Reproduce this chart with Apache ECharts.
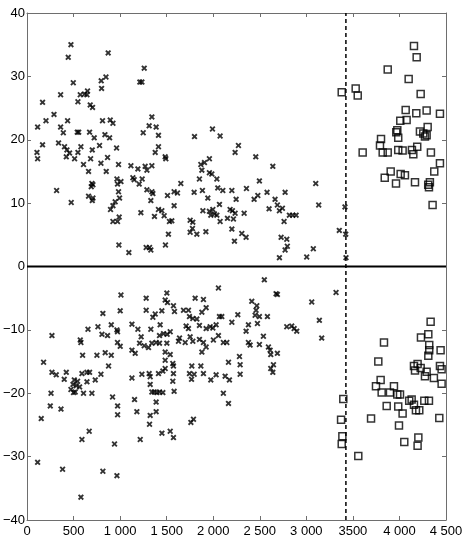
<!DOCTYPE html>
<html><head><meta charset="utf-8">
<script src="https://cdn.jsdelivr.net/npm/echarts@6/dist/echarts.min.js"></script>
<style>html,body{margin:0;padding:0;background:#fff}#c{width:470px;height:545px}</style>
</head><body><div id="c"></div><script>
const xTickLabels = ["0","500","1 000","1 500","2 000","2 500","3 000","3500","4 000","4 500"];
const yTickLabels = ["\u221240","\u221230","\u221220","\u221210","0","10","20","30","40"];
const zeroY = 0;
const cutoffX = 3425;

const crossUpper = [
[472,35.0],[443,33.0],[872,33.7],[1259,31.3],[1212,29.1],[1234,29.1],[497,29.0],[797,29.3],[848,29.9],[801,28.1],[361,27.1],[167,25.9],[572,27.1],[618,27.2],[650,27.7],[644,27.1],[547,26.0],[679,25.5],[704,25.1],[1341,23.6],[290,24.0],[204,23.0],[114,22.0],[436,23.0],[361,22.0],[390,21.1],[540,21.2],[555,21.2],[672,21.2],[722,20.3],[811,23.0],[894,23.1],[923,22.6],[837,20.8],[887,20.3],[1312,22.2],[1387,22.0],[1248,21.1],[1412,20.7],
[1799,20.5],[1992,21.7],[2074,20.6],
[167,19.2],[107,18.0],[114,17.0],[339,19.5],[403,18.9],[429,18.4],[457,17.9],[422,17.3],[511,17.0],[547,18.0],[579,18.9],[701,18.4],[683,17.0],[779,19.1],[962,18.7],[865,17.2],[794,16.3],[607,16.1],[661,15.0],[851,15.0],[983,16.1],[1116,15.9],[1191,15.4],[1269,15.8],[1288,15.2],[1341,15.9],[1412,18.9],[1377,18.0],[1484,17.3],[1491,17.0],[318,12.0],[475,10.1],[697,13.1],[690,12.6],[708,12.9],[661,11.1],[708,10.8],[701,10.4],[966,13.8],[972,13.0],[1009,13.4],[983,11.8],[994,10.8],[947,10.2],[923,9.6],[897,9.0],[923,7.1],[972,7.1],[990,7.8],[1137,14.0],[1151,13.7],[1237,13.8],[1205,13.0],[1288,12.1],[1341,11.8],[1352,11.5],[1330,10.4],[1509,11.2],[1580,11.8],[1616,11.6],[1223,8.5],[1412,9.0],[1448,8.8],[1369,7.9],[1473,8.0],[1580,9.6],[1530,7.1],[1555,7.2],[1519,5.1],[1487,3.4],[987,3.4],[1094,2.2],[1280,3.0],[1316,3.0],[1330,2.6],
[2271,19.1],[2235,18.0],[2457,17.3],[2640,15.8],[1959,17.0],[1906,16.4],[1867,16.1],[1878,15.2],[1959,14.8],[1985,14.6],[2039,13.8],[1852,13.8],[1652,13.1],[1795,11.7],[1884,12.0],[2049,12.4],[2103,12.0],[2200,12.0],[2357,12.3],[2496,13.5],[2578,11.7],[2772,11.7],[3101,13.1],[1942,10.8],[2067,9.8],[2246,10.6],[2439,10.6],[2479,11.2],[2664,10.6],[2689,9.7],[2743,9.2],[2711,8.8],[2600,9.1],[1889,8.8],[1959,8.7],[1996,9.0],[2013,8.3],[1974,8.1],[2039,8.1],[2181,9.0],[2206,8.8],[2235,8.4],[2217,7.5],[2153,7.6],[2332,8.4],[2074,7.1],[2818,8.1],[2854,8.1],[2890,8.1],[2761,7.1],[3133,9.7],[1752,7.3],[1781,7.0],[1777,6.0],[1752,5.4],[1824,5.1],[1921,5.5],[2200,5.9],[2307,5.2],[2353,4.6],[2228,4.0],[2729,4.6],[2790,4.3],[2796,3.2],[2772,2.6],[2711,1.4],[3075,2.8],[3004,1.5],
[3415,9.4],[3354,5.7],[3423,5.1],[3426,1.4]
];

const crossLower = [
[1009,-4.5],[815,-7.4],[1001,-7.0],[268,-10.9],[572,-11.6],[579,-12.0],[655,-9.9],[762,-9.5],[805,-10.7],[865,-10.9],[905,-9.2],[966,-10.0],[972,-10.3],[972,-12.0],[1001,-12.6],[1127,-9.1],[1191,-9.9],[1226,-11.1],[1209,-12.1],[1259,-12.5],[1305,-12.8],[1330,-9.9],[1280,-6.9],[1377,-7.5],[1352,-8.0],[1448,-7.0],[1280,-5.0],[1502,-4.2],[1484,-5.3],[1509,-5.7],[1573,-6.2],[1584,-7.1],[1430,-9.2],[1423,-10.9],[1466,-10.6],[1505,-10.7],[1538,-10.3],[1341,-12.1],[1387,-12.0],[1423,-12.1],[1502,-12.1],[1627,-11.8],[1127,-13.2],[1162,-13.7],[597,-14.0],[751,-14.0],[840,-13.6],[905,-14.0],[876,-15.7],[178,-15.1],[1484,-13.5],[1538,-13.9],[1484,-14.8],[1566,-15.3],[1573,-15.7],[268,-16.7],[314,-17.1],[422,-16.7],[400,-17.8],[590,-16.9],[644,-16.7],[672,-16.7],[794,-17.0],[733,-17.9],[644,-18.2],[508,-17.9],[543,-18.1],[494,-18.6],[529,-18.8],[472,-19.4],[500,-19.9],[258,-20.0],[607,-20.0],[697,-20.0],[1127,-17.6],[1234,-17.0],[1312,-16.9],[1323,-17.4],[1412,-16.9],[1459,-16.5],[1484,-16.1],[1573,-16.9],[1566,-18.1],[1323,-18.6],[1366,-19.8],[1423,-19.8],[1580,-19.7],
[518,-19.8],[565,-19.0],[919,-20.6],[1155,-21.0],[250,-22.0],[365,-22.5],[153,-24.0],[973,-22.0],[973,-23.4],[1180,-22.9],[1323,-23.5],[1387,-22.9],[1387,-21.4],[1316,-24.9],[590,-27.3],[668,-26.0],[940,-28.0],[1216,-27.3],[1449,-26.3],[1538,-26.0],[1573,-27.0],[1459,-19.9],[1341,-19.8],[1395,-19.9],[114,-30.9],[382,-32.0],[815,-32.3],[966,-33.0],[579,-36.4],
[2549,-2.1],[2056,-3.4],[2675,-4.3],[2689,-4.4],[1806,-5.0],[1895,-5.2],[1681,-6.9],[1734,-6.9],[1924,-6.5],[1878,-7.2],[1745,-7.9],[1781,-8.2],[1824,-8.3],[1852,-9.3],[2067,-7.9],[2092,-7.9],[2264,-7.6],[2200,-8.8],[2414,-5.5],[2468,-6.2],[2460,-6.9],[2450,-7.7],[2496,-7.9],[2582,-7.9],[2475,-9.0],[1709,-9.4],[1734,-9.8],[1924,-9.8],[1967,-9.5],[1996,-9.7],[2031,-9.2],[2378,-9.2],[2353,-10.2],[2790,-9.5],[2843,-9.4],[2869,-9.8],[2897,-10.2],[3058,-5.6],[1638,-11.3],[1699,-12.0],[1752,-11.1],[1781,-11.8],[1852,-11.5],[1895,-12.0],[1924,-12.7],[1878,-13.5],[2002,-11.6],[2056,-10.9],[2109,-12.0],[2146,-12.0],[2378,-12.0],[2396,-12.4],[2496,-12.3],[2539,-11.0],[2593,-12.7],[2611,-13.2],[2618,-13.9],[2689,-13.7],[2164,-15.1],[2282,-14.2],[2289,-15.5],[1770,-15.7],[1867,-15.7],[2647,-15.5],[2618,-16.1],[2640,-16.7],[1745,-16.9],[1795,-17.0],[1895,-16.9],[1767,-17.8],[2031,-17.1],[1974,-17.9],[2128,-17.3],[2174,-17.9],[2289,-17.0],[2109,-20.0],
[2164,-21.6],[1760,-24.6],[1788,-24.1],
[3319,-4.1],[3140,-8.5],[3165,-11.3]
];

const squareUpper = [
[4156,34.8],[4185,33.0],[3874,31.1],[4099,29.6],[3380,27.5],[3530,28.1],[3552,27.0],[4228,27.2],[4067,24.7],[4181,24.2],[4292,24.6],[4435,24.1],[4009,23.0],[4077,23.1],[3977,21.5],[3966,21.2],[4303,22.0],[4220,21.3],[4256,21.0],[4292,20.7],[4274,20.5],[3802,20.1],[3987,20.3],[3791,19.1],[3605,18.0],[3820,18.0],[3874,18.0],[3987,18.4],[4034,18.3],[4134,18.4],[4191,18.9],[4149,17.7],[4338,18.0],[4435,16.3],[4374,15.0],[3906,15.0],[3842,14.0],[4013,14.6],[4059,14.4],[3963,13.1],[4167,13.3],[4309,12.9],[4327,13.3],[4317,12.5],[4356,9.7]
];

const squareLower = [
[4335,-8.7],[4231,-11.2],[4310,-10.7],[3834,-12.0],[4320,-12.4],[4320,-13.2],[4442,-13.2],[4310,-14.1],[3773,-15.0],[4156,-15.7],[4195,-15.4],[4167,-16.4],[4228,-16.0],[4292,-16.6],[4274,-17.3],[4370,-17.6],[4435,-15.7],[4453,-16.2],[4453,-18.5],[3798,-17.9],[3748,-18.9],[3941,-18.9],[3809,-19.9],[3898,-19.9],[3977,-20.2],[4006,-20.2],[3397,-20.9],[3373,-24.2],[3387,-26.8],[3380,-28.0],[3558,-29.9],[3695,-24.0],[3863,-22.0],[3987,-22.1],[4034,-23.2],[3995,-25.1],[4105,-21.2],[4131,-21.0],[4156,-21.8],[4177,-22.7],[4213,-22.7],[4267,-21.2],[4317,-21.2],[4428,-23.9],[4052,-27.7],[4203,-27.0],[4195,-28.3]
];

const X_MIN = 0, X_MAX = 4500, X_STEP = 500;
const Y_MIN = -40, Y_MAX = 40, Y_STEP = 10;
const FONT = '"Liberation Sans", Arial, sans-serif';
const crossPath = 'path://M0,2.2L2.2,0L5,2.8L7.8,0L10,2.2L7.2,5L10,7.8L7.8,10L5,7.2L2.2,10L0,7.8L2.8,5Z';

function axisBase(pos, isX) {
  return {
    type: 'value', position: pos,
    min: isX ? X_MIN : Y_MIN, max: isX ? X_MAX : Y_MAX, interval: isX ? X_STEP : Y_STEP,
    axisLine: { show: true, onZero: false, lineStyle: { color: '#6e6e6e', width: 1 } },
    axisTick: { show: true, inside: true, length: 4, lineStyle: { color: '#6e6e6e', width: 1 } },
    splitLine: { show: false },
    axisLabel: { show: false }
  };
}
const xBottom = axisBase('bottom', true);
xBottom.axisLabel = { show: true, color: '#000', fontSize: 13, fontFamily: FONT, margin: 5,
  showMinLabel: true, showMaxLabel: true,
  formatter: v => xTickLabels[Math.round((v - X_MIN) / X_STEP)] };
const xTop = axisBase('top', true);
const yLeft = axisBase('left', false);
yLeft.axisLabel = { show: true, color: '#000', fontSize: 13, fontFamily: FONT, margin: 2,
  showMinLabel: true, showMaxLabel: true,
  formatter: v => yTickLabels[Math.round((v - Y_MIN) / Y_STEP)] };
const yRight = axisBase('right', false);

const chart = echarts.init(document.getElementById('c'), null, { renderer: 'canvas' });
chart.setOption({
  animation: false,
  backgroundColor: '#fff',
  grid: { left: 27, right: 24, top: 13, bottom: 25, containLabel: false, outerBoundsMode: 'none' },
  xAxis: [xBottom, xTop],
  yAxis: [yLeft, yRight],
  series: [
    { type: 'line', xAxisIndex: 0, yAxisIndex: 0, data: [[X_MIN, zeroY], [X_MAX, zeroY]],
      symbol: 'none', lineStyle: { color: '#000', width: 2 }, silent: true, z: 1 },
    { type: 'line', xAxisIndex: 0, yAxisIndex: 0, data: [[cutoffX, Y_MIN], [cutoffX, Y_MAX]],
      symbol: 'none', lineStyle: { color: '#000', width: 1.5, type: [4, 3] }, silent: true, z: 1 },
    { type: 'scatter', xAxisIndex: 0, yAxisIndex: 0, data: crossUpper.concat(crossLower),
      symbol: crossPath, symbolSize: 6, itemStyle: { color: '#000' }, z: 3 },
    { type: 'scatter', xAxisIndex: 0, yAxisIndex: 0, data: squareUpper.concat(squareLower),
      symbol: 'rect', symbolSize: 7, itemStyle: { color: 'rgba(0,0,0,0)', borderColor: '#000', borderWidth: 1.5 }, z: 3 }
  ]
});
</script></body></html>
